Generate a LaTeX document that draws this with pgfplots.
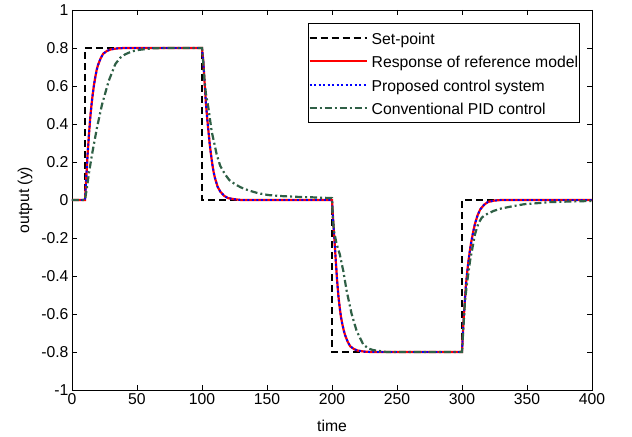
\documentclass[border=0pt]{standalone}
\usepackage{pgfplots}
\pgfplotsset{compat=1.18}
\usepackage{fontspec}
\setmainfont{Liberation Sans}
\definecolor{pidgreen}{RGB}{47,96,70}
\begin{document}
\begin{tikzpicture}
\begin{axis}[name=ax,
  width=520bp, height=380bp, scale only axis,
  xmin=0, xmax=400, ymin=-1, ymax=1,
  xtick={0,50,100,150,200,250,300,350,400},
  ytick={-1,-0.8,-0.6,-0.4,-0.2,0,0.2,0.4,0.6,0.8,1},
  yticklabels={-1,-0.8,-0.6,-0.4,-0.2,0,0.2,0.4,0.6,0.8,1},
  tick align=inside, major tick length=5bp,
  tick style={black, line width=0.6bp},
  axis line style={black, line width=0.8bp},
  /pgf/number format/assume math mode=true,
  tick label style={font=\fontsize{15.8}{18}\selectfont},
  label style={font=\fontsize{15.8}{18}\selectfont},
  xlabel={time}, ylabel={output (y)},
  xlabel style={yshift=-9bp},
  ylabel style={yshift=2bp},
  legend cell align=left,
  legend image code/.code={\draw[#1] (0bp,0bp) -- (57bp,0bp);},
  legend style={at={(0.977,0.966)}, anchor=north east, draw=black, line width=0.8bp,
    font=\fontsize{15.8}{18}\selectfont, inner xsep=0bp, inner ysep=6bp, row sep=6.5bp,
    nodes={inner xsep=1.5bp, inner ysep=2bp, text height=13bp, text depth=0bp}},
  legend columns=1,
]
% Set-point
\addplot[black, line width=2.1bp, dash pattern=on 7bp off 4bp] coordinates {
(0,0)(10,0)(10,0.8)(100,0.8)(100,0)(200,0)(200,-0.8)(300,-0.8)(300,0)(400,0)};
\addlegendentry{\hspace{2.5bp}Set-point}
% reference model
\addplot[red, line width=2.2bp] coordinates {
(0,0)(10,0)(11,0.12)(12,0.24)(13,0.34)(14,0.43)(15,0.50)(16,0.56)(17,0.61)(18,0.65)(19,0.685)(20,0.71)(22,0.745)(24,0.77)(27,0.785)(30,0.793)(35,0.798)(40,0.8)
(100,0.8)(101,0.73)(102,0.62)(103,0.51)(104,0.43)(105,0.36)(106,0.29)(107,0.235)(108,0.185)(109,0.145)(110,0.115)(112,0.07)(114,0.045)(117,0.022)(120,0.01)(125,0.004)(130,0)
(200,0)(201,-0.12)(202,-0.22)(203,-0.33)(204,-0.43)(205,-0.51)(206,-0.57)(207,-0.62)(208,-0.655)(209,-0.685)(210,-0.71)(212,-0.745)(214,-0.77)(217,-0.785)(220,-0.793)(225,-0.798)(230,-0.8)
(300,-0.8)(301,-0.66)(302,-0.55)(303,-0.45)(304,-0.38)(305,-0.32)(306,-0.27)(307,-0.225)(308,-0.19)(309,-0.155)(310,-0.125)(312,-0.08)(314,-0.05)(317,-0.025)(320,-0.01)(325,-0.003)(330,0)(400,0)};
\addlegendentry{\hspace{2.5bp}Response of reference model}
% proposed
\addplot[blue, line width=1.9bp, dash pattern=on 2bp off 2.5bp] coordinates {
(0,0)(10,0)(11,0.12)(12,0.24)(13,0.34)(14,0.43)(15,0.50)(16,0.56)(17,0.61)(18,0.65)(19,0.685)(20,0.71)(22,0.745)(24,0.77)(27,0.785)(30,0.793)(35,0.798)(40,0.8)
(100,0.8)(101,0.73)(102,0.62)(103,0.51)(104,0.43)(105,0.36)(106,0.29)(107,0.235)(108,0.185)(109,0.145)(110,0.115)(112,0.07)(114,0.045)(117,0.022)(120,0.01)(125,0.004)(130,0)
(200,0)(201,-0.12)(202,-0.22)(203,-0.33)(204,-0.43)(205,-0.51)(206,-0.57)(207,-0.62)(208,-0.655)(209,-0.685)(210,-0.71)(212,-0.745)(214,-0.77)(217,-0.785)(220,-0.793)(225,-0.798)(230,-0.8)
(300,-0.8)(301,-0.66)(302,-0.55)(303,-0.45)(304,-0.38)(305,-0.32)(306,-0.27)(307,-0.225)(308,-0.19)(309,-0.155)(310,-0.125)(312,-0.08)(314,-0.05)(317,-0.025)(320,-0.01)(325,-0.003)(330,0)(400,0)};
\addlegendentry{\hspace{2.5bp}Proposed control system}
% PID
\addplot[pidgreen, line width=2.2bp, dash pattern=on 7bp off 3bp on 2bp off 3bp] coordinates {
(0,0)(10,0)(11.5,0.065)(13,0.14)(15.4,0.24)(19.2,0.38)(23,0.5)(28.2,0.626)(33.3,0.715)(37,0.748)(41,0.767)(46,0.782)(51.3,0.79)(61.5,0.798)(70,0.8)
(100,0.8)(101,0.72)(101.8,0.64)(103,0.56)(104.9,0.486)(107.4,0.363)(111.3,0.24)(114,0.18)(117.7,0.135)(121,0.105)(125.4,0.083)(130,0.066)(135.6,0.051)(143,0.036)(151,0.026)(160,0.021)(171.5,0.017)(185,0.014)(200,0.01)
(200.5,-0.08)(201.5,-0.163)(203.6,-0.233)(206,-0.286)(208.7,-0.374)(211.3,-0.479)(215.1,-0.6)(219,-0.69)(224,-0.76)(228,-0.782)(231.8,-0.79)(242,-0.8)(300,-0.8)
(301,-0.68)(302.3,-0.53)(304,-0.43)(306.2,-0.32)(310,-0.18)(312.5,-0.125)(315.2,-0.093)(318,-0.078)(321.5,-0.067)(324.1,-0.058)(330,-0.045)(339.5,-0.032)(348,-0.022)(357.4,-0.017)(367.7,-0.011)(383,-0.008)(400,-0.005)};
\addlegendentry{\hspace{2.5bp}Conventional PID control}
\end{axis}
\pgfresetboundingbox
\path ([shift={(-72bp,-47bp)}]ax.south west) rectangle ([shift={(40bp,10bp)}]ax.north east);
\end{tikzpicture}
\end{document}
